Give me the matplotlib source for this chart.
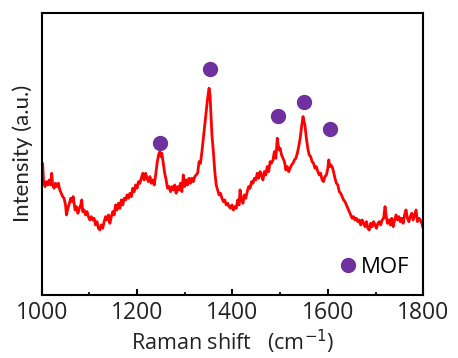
import matplotlib
matplotlib.use("Agg")
import matplotlib.pyplot as plt

plt.rcParams["font.family"] = ["Open Sans", "DejaVu Sans"]

# Raman spectrum (intensity in arbitrary units)
shift = [
    1000, 1002, 1004, 1007, 1010, 1013, 1016, 1019, 1021, 1023, 1026, 1029, 1032, 1035, 1038,
    1041, 1044, 1047, 1050, 1052, 1055, 1058, 1061, 1064, 1066, 1068, 1070, 1073, 1076, 1079,
    1082, 1084, 1086, 1089, 1092, 1095, 1098, 1101, 1104, 1107, 1110, 1113, 1116, 1119, 1122,
    1125, 1128, 1131, 1134, 1137, 1140, 1143, 1146, 1149, 1152, 1155, 1158, 1161, 1164, 1167,
    1170, 1173, 1176, 1179, 1182, 1185, 1188, 1191, 1194, 1197, 1200, 1203, 1206, 1209, 1212,
    1215, 1218, 1221, 1224, 1227, 1230, 1233, 1236, 1239, 1242, 1245, 1248, 1250, 1252, 1255,
    1258, 1261, 1264, 1267, 1270, 1273, 1276, 1279, 1282, 1285, 1288, 1291, 1294, 1297, 1300,
    1303, 1306, 1309, 1312, 1315, 1318, 1321, 1324, 1327, 1330, 1333, 1336, 1339, 1342, 1345,
    1348, 1351, 1353, 1355, 1357, 1360, 1363, 1366, 1369, 1372, 1375, 1378, 1381, 1384, 1387,
    1390, 1393, 1396, 1399, 1402, 1405, 1408, 1411, 1414, 1416, 1419, 1422, 1425, 1428, 1431,
    1434, 1437, 1440, 1443, 1446, 1449, 1452, 1455, 1458, 1461, 1464, 1467, 1470, 1473, 1476,
    1479, 1482, 1485, 1488, 1491, 1494, 1496, 1498, 1500, 1503, 1506, 1509, 1512, 1515, 1518,
    1521, 1524, 1527, 1530, 1533, 1536, 1539, 1542, 1545, 1548, 1550, 1552, 1555, 1558, 1561,
    1564, 1567, 1570, 1573, 1576, 1579, 1582, 1585, 1588, 1591, 1594, 1597, 1600, 1602, 1604,
    1606, 1609, 1612, 1615, 1618, 1621, 1624, 1627, 1630, 1633, 1636, 1639, 1642, 1645, 1648,
    1651, 1654, 1657, 1660, 1663, 1666, 1669, 1672, 1675, 1678, 1681, 1684, 1687, 1690, 1693,
    1696, 1699, 1702, 1705, 1708, 1711, 1714, 1717, 1720, 1722, 1725, 1728, 1731, 1734, 1737,
    1740, 1743, 1746, 1749, 1752, 1755, 1758, 1761, 1764, 1767, 1770, 1773, 1776, 1779, 1782,
    1785, 1788, 1791, 1794, 1797, 1800,
]
intensity = [
    345, 395, 340, 325, 340, 330, 345, 330, 365, 330, 320, 335, 325, 335, 315,
    305, 295, 290, 270, 240, 260, 275, 290, 280, 295, 275, 255, 265, 245, 260,
    270, 285, 250, 255, 240, 250, 235, 225, 235, 225, 230, 210, 220, 200, 195,
    210, 200, 220, 235, 225, 240, 215, 235, 250, 240, 270, 255, 275, 260, 285,
    270, 290, 285, 300, 290, 305, 295, 320, 310, 330, 320, 340, 335, 350, 365,
    345, 365, 350, 340, 355, 335, 345, 330, 360, 395, 420, 430, 415, 425, 395,
    365, 345, 320, 325, 310, 325, 315, 330, 305, 325, 315, 335, 310, 360, 325,
    345, 330, 350, 335, 350, 340, 355, 360, 365, 400, 395, 430, 470, 510, 550,
    590, 620, 600, 540, 480, 430, 370, 330, 315, 300, 305, 290, 280, 285, 270,
    275, 265, 260, 270, 255, 265, 260, 285, 270, 315, 285, 275, 300, 290, 310,
    325, 320, 340, 335, 350, 345, 365, 350, 370, 360, 345, 370, 360, 385, 370,
    400, 395, 405, 430, 410, 470, 450, 435, 440, 420, 410, 400, 375, 385, 370,
    380, 390, 395, 405, 410, 425, 445, 470, 505, 535, 520, 510, 470, 440, 420,
    415, 400, 395, 380, 385, 370, 360, 365, 345, 340, 355, 360, 380, 405, 385,
    390, 385, 370, 350, 335, 330, 310, 305, 295, 285, 280, 270, 260, 250, 240,
    230, 235, 225, 230, 220, 225, 210, 225, 215, 205, 220, 200, 195, 215, 205,
    220, 210, 200, 215, 220, 210, 225, 230, 265, 240, 215, 225, 210, 230, 205,
    225, 240, 225, 235, 220, 230, 215, 240, 255, 230, 220, 235, 245, 225, 240,
    255, 220, 230, 225, 215, 200,
]

# MOF peak markers
mof_x = [1248, 1353, 1495, 1551, 1605]
mof_y = [455, 678, 536, 578, 497]

purple = "#7030A0"

fig = plt.figure(figsize=(4.58, 3.58), dpi=100)
ax = fig.add_axes([0.091, 0.176, 0.833, 0.789])

ax.plot(shift, intensity, "-", color="red", linewidth=2.0)
ax.plot(mof_x, mof_y, "o", color=purple, markersize=10, linestyle="none", label="MOF")

ax.set_xlim(1000, 1800)
ax.set_ylim(0, 847)
ax.set_xticks([1000, 1200, 1400, 1600, 1800])
ax.set_xticks([1100, 1300, 1500, 1700], minor=True)
ax.set_yticks([])
ax.tick_params(axis="x", which="major", direction="in", length=4, width=1.5,
               labelsize=16.5, pad=4)
ax.tick_params(axis="x", which="minor", direction="in", length=2.5, width=1.2)
for s in ax.spines.values():
    s.set_linewidth(1.5)

ax.set_xlabel("Raman shift   (cm$^{-1}$)", fontsize=15.5, labelpad=2, color="#222222")
ax.set_ylabel("Intensity (a.u.)", fontsize=16, labelpad=6, color="#222222",
              family=["Lato", "DejaVu Sans"])
ax.tick_params(labelcolor="#222222")

ax.legend(loc="lower right", frameon=False, fontsize=16, handletextpad=0.1,
          handlelength=1.0, borderaxespad=0.0, bbox_to_anchor=(0.987, 0.03))

fig.savefig("out.png", dpi=100)
